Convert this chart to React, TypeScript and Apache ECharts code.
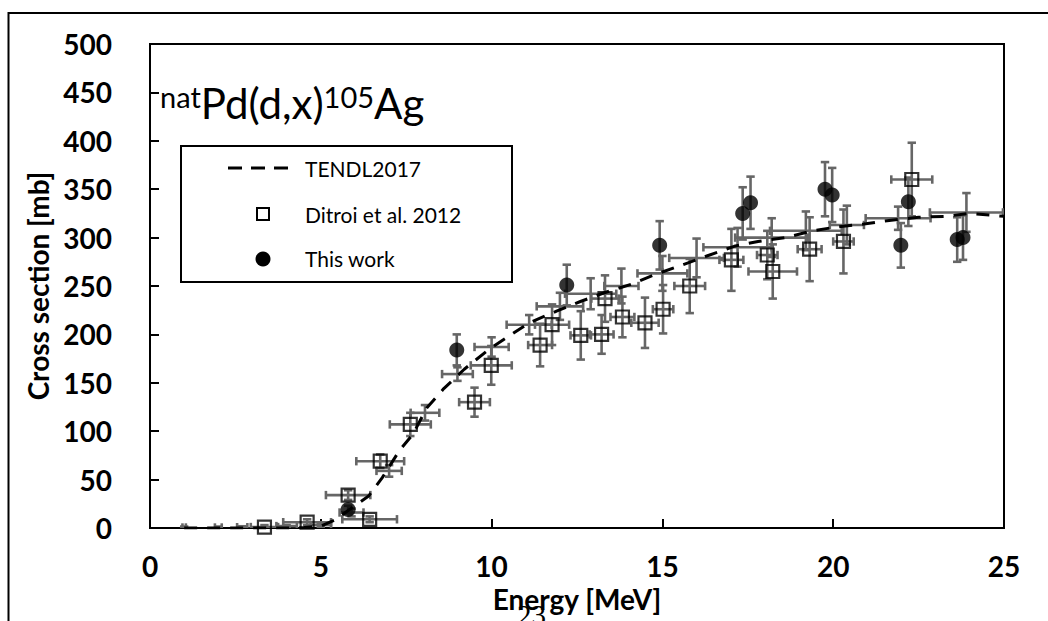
import React, { useEffect, useRef } from "react";
import * as echarts from "echarts";

// Axis ticks
const xTicks = [0, 5, 10, 15, 20, 25];
const yTicks = [0, 50, 100, 150, 200, 250, 300, 350, 400, 450, 500];

// TENDL2017 curve
const tendlE = [1, 2, 3, 4, 4.5, 5, 5.4, 5.8, 6.4, 6.8, 7.3, 7.7, 8.1, 8.6, 9.2, 9.9, 10.5, 11.1, 11.9, 12.6, 13.3, 14.1, 14.8, 15.6, 16.3, 17.1, 17.8, 18.6, 19.4, 20.1, 20.9, 21.7, 22.5, 23.3, 24.0, 25];
const tendlXS = [0, 0, 0, 0, 0.5, 2, 8, 18, 33, 52, 80, 97, 124, 144, 164, 184, 198, 212, 224, 234, 243, 252, 262, 272, 281, 291, 296, 300, 307, 311, 314, 318, 321, 322, 325, 322];

// Error crosses without markers
const crossE = [1.0, 2.0, 2.7, 4.0, 5.0, 5.9, 7.0, 8.05, 9.0, 10.0, 11.1, 12.0, 12.9, 13.8, 15.0, 16.0, 17.2, 18.2, 19.2, 20.4, 21.9, 23.9];
const crossXS = [0.5, 0.5, 0.8, 2, 3, 16, 59, 119, 159, 187, 210, 229, 242, 250, 263, 279, 290, 300, 307, 313, 320, 326];
const crossDE = [0.05, 0.1, 0.15, 0.3, 0.3, 0.35, 0.37, 0.42, 0.45, 0.5, 0.66, 0.68, 0.75, 0.5, 0.73, 0.8, 1.0, 1.07, 1.05, 0.5, 0.95, 1.07];
const crossDXS = [1, 1, 1, 1, 2, 4, 6, 8, 7, 10, 10, 14, 16, 18, 18, 20, 20, 20, 20, 20, 12, 20];

// Ditroi et al. 2012
const ditroiE = [3.35, 4.6, 5.8, 6.43, 6.74, 7.62, 9.5, 9.99, 11.42, 11.77, 12.61, 13.22, 13.32, 13.83, 14.49, 15.02, 15.8, 17.02, 18.07, 18.23, 19.31, 20.3, 22.3];
const ditroiXS = [1, 6, 34, 9, 69, 107, 130, 168, 189, 210, 199, 200, 237, 218, 212, 226, 250, 277, 282, 265, 288, 296, 360];
const ditroiDE = [0.4, 0.7, 0.65, 0.8, 0.7, 0.6, 0.45, 0.6, 0.35, 0.5, 0.3, 0.35, 0.4, 0.35, 0.4, 0.3, 0.45, 0.35, 0.3, 0.71, 0.35, 0.3, 0.6];
const ditroiDXS = [2, 3, 5, 3, 7, 12, 15, 20, 22, 21, 25, 20, 24, 21, 26, 25, 28, 32, 25, 28, 33, 33, 38];

// This work
const thisE = [5.8, 8.98, 12.2, 14.92, 17.35, 17.58, 19.76, 19.97, 21.98, 22.2, 23.63, 23.8];
const thisXS = [19, 184, 251, 292, 325, 336, 350, 344, 292, 337, 298, 300];
const thisDXS = [4, 16, 21, 25, 27, 27, 28, 28, 23, 25, 23, 23];

const FONT = "Lato";
const BAR = "#666666";

function errRender(params: any, api: any) {
  const x = api.value(0);
  const y = api.value(1);
  const dx = api.value(2);
  const dy = api.value(3);
  const style = { stroke: BAR, lineWidth: 2.6, fill: null };
  const cap = 4.2;
  const children: any[] = [];
  if (dx > 0) {
    const l = api.coord([x - dx, y]);
    const r = api.coord([x + dx, y]);
    children.push({ type: "line", shape: { x1: l[0], y1: l[1], x2: r[0], y2: r[1] }, style });
    children.push({ type: "line", shape: { x1: l[0], y1: l[1] - cap, x2: l[0], y2: l[1] + cap }, style });
    children.push({ type: "line", shape: { x1: r[0], y1: r[1] - cap, x2: r[0], y2: r[1] + cap }, style });
  }
  if (dy > 0) {
    const t = api.coord([x, y + dy]);
    const b = api.coord([x, y - dy]);
    children.push({ type: "line", shape: { x1: t[0], y1: t[1], x2: b[0], y2: b[1] }, style });
    children.push({ type: "line", shape: { x1: t[0] - cap, y1: t[1], x2: t[0] + cap, y2: t[1] }, style });
    children.push({ type: "line", shape: { x1: b[0] - cap, y1: b[1], x2: b[0] + cap, y2: b[1] }, style });
  }
  return { type: "group", children };
}

export default function App() {
  const ref = useRef<HTMLDivElement>(null);
  useEffect(() => {
    if (!ref.current) return;
    const chart = echarts.init(ref.current, undefined, { renderer: "svg" });

    const crossData = crossE.map((e, i) => [e, crossXS[i], crossDE[i], crossDXS[i]]);
    const ditroiErr = ditroiE.map((e, i) => [e, ditroiXS[i], ditroiDE[i], ditroiDXS[i]]);
    const thisErr = thisE.map((e, i) => [e, thisXS[i], 0, thisDXS[i]]);

    const errSeries = (name: string, data: any[]) => ({
      type: "custom",
      name,
      renderItem: errRender,
      data,
      encode: { x: 0, y: 1 },
      clip: true,
      z: 1,
      silent: true,
    });

    chart.setOption({
      animation: false,
      grid: { left: 150, top: 44, right: 44, bottom: 93, show: true, borderColor: "#000", borderWidth: 2, backgroundColor: "transparent" },
      xAxis: {
        type: "value",
        min: xTicks[0],
        max: xTicks[xTicks.length - 1],
        interval: 5,
        name: "Energy [MeV]",
        nameLocation: "middle",
        nameGap: 56,
        nameTextStyle: { fontFamily: FONT, fontWeight: "bold", fontSize: 28, color: "#000" },
        axisLine: { show: true, lineStyle: { color: "#000", width: 2 } },
        axisTick: { show: true, inside: true, length: 9, lineStyle: { color: "#000", width: 2 } },
        axisLabel: { margin: 24, fontFamily: FONT, fontWeight: "bold", fontSize: 28, color: "#000" },
        splitLine: { show: false },
      },
      yAxis: {
        type: "value",
        min: yTicks[0],
        max: yTicks[yTicks.length - 1],
        interval: 50,
        name: "Cross section [mb]",
        nameLocation: "middle",
        nameRotate: 90,
        nameGap: 96,
        nameTextStyle: { fontFamily: FONT, fontWeight: "bold", fontSize: 28, color: "#000" },
        axisLine: { show: true, lineStyle: { color: "#000", width: 2 } },
        axisTick: { show: true, inside: true, length: 9, lineStyle: { color: "#000", width: 2 } },
        axisLabel: { margin: 38, fontFamily: FONT, fontWeight: "bold", fontSize: 28, color: "#000" },
        splitLine: { show: false },
      },
      series: [
        errSeries("crosses", crossData),
        errSeries("ditroiErr", ditroiErr),
        errSeries("thisErr", thisErr),
        {
          type: "line",
          name: "TENDL2017",
          data: tendlE.map((e, i) => [e, tendlXS[i]]),
          showSymbol: false,
          symbol: "none",
          smooth: false,
          lineStyle: { color: "#000", width: 3, type: [13, 10] },
          z: 3,
          silent: true,
        },
        {
          type: "scatter",
          name: "Ditroi et al. 2012",
          data: ditroiE.map((e, i) => [e, ditroiXS[i]]),
          symbol: "rect",
          symbolSize: 13,
          itemStyle: { color: "rgba(0,0,0,0)", borderColor: "#000", borderWidth: 2.2 },
          z: 4,
          silent: true,
        },
        {
          type: "scatter",
          name: "This work",
          data: thisE.map((e, i) => [e, thisXS[i]]),
          symbol: "circle",
          symbolSize: 15,
          itemStyle: { color: "#000" },
          z: 5,
          silent: true,
        },
      ],
      graphic: [
        {
          type: "rect",
          shape: { x: 8.5, y: 13, width: 1200, height: 800 },
          style: { fill: "none", stroke: "#000", lineWidth: 2 },
          silent: true,
        },
        {
          type: "text",
          x: 160,
          y: 82,
          style: {
            text: "{s|nat}{b|Pd(d,x)}{s|105}{b|Ag}",
            verticalAlign: "top",
            align: "left",
            fill: "#000",
            rich: {
              s: { fontFamily: FONT, fontSize: 29, lineHeight: 29, verticalAlign: "top", fill: "#000" },
              b: { fontFamily: FONT, fontSize: 42, lineHeight: 54, verticalAlign: "top", fill: "#000" },
            },
          },
          silent: true,
        },
        {
          type: "group",
          silent: true,
          children: [
            {
              type: "rect",
              shape: { x: 181, y: 146, width: 331, height: 136 },
              style: { fill: "#fff", stroke: "#000", lineWidth: 2 },
            },
            {
              type: "line",
              shape: { x1: 228, y1: 168, x2: 297, y2: 168 },
              style: { stroke: "#000", lineWidth: 3, lineDash: [14, 9] },
            },
            {
              type: "text",
              x: 305,
              y: 168,
              style: { text: "TENDL2017", fontFamily: FONT, fontSize: 21, fill: "#000", verticalAlign: "middle" },
            },
            {
              type: "rect",
              shape: { x: 257, y: 208, width: 12, height: 12 },
              style: { fill: "none", stroke: "#000", lineWidth: 2 },
            },
            {
              type: "text",
              x: 305,
              y: 214,
              style: { text: "Ditroi et al. 2012", fontFamily: FONT, fontSize: 21, fill: "#000", verticalAlign: "middle" },
            },
            {
              type: "circle",
              shape: { cx: 263, cy: 259, r: 7.5 },
              style: { fill: "#000" },
            },
            {
              type: "text",
              x: 305,
              y: 258,
              style: { text: "This work", fontFamily: FONT, fontSize: 21, fill: "#000", verticalAlign: "middle" },
            },
          ],
        },
        {
          type: "text",
          x: 517,
          y: 600,
          style: { text: "23", fontFamily: "Liberation Serif", fontSize: 29, fill: "#000", verticalAlign: "top" },
          silent: true,
        },
      ],
    });
    return () => chart.dispose();
  }, []);

  return <div ref={ref} style={{ position: "fixed", left: 0, top: 0, width: 1048, height: 621, background: "#fff" }} />;
}
